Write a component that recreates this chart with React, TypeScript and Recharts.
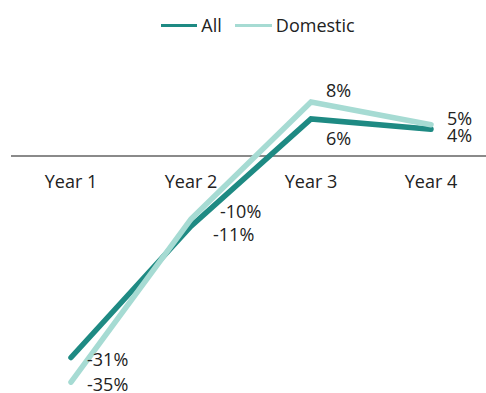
import { LineChart, Line, XAxis, YAxis, ReferenceLine, LabelList } from 'recharts';

const years = ['Year 1', 'Year 2', 'Year 3', 'Year 4'];
const allGrowth = [-31, -10.8, 5.7, 4.1];
const domesticGrowth = [-34.8, -9.7, 8.3, 4.8];

const data = years.map((year, i) => ({
    year,
    all: allGrowth[i],
    domestic: domesticGrowth[i],
}));

const FONT = '"Open Sans", sans-serif';
const DARK = '#1e8a83';
const LIGHT = '#a6dbd3';

// label nudges per point, relative to the point
const allOffsets = [[16, 8], [22, 15], [15, 26], [16, 13]];
const domesticOffsets = [[16, 9], [29, -1], [15, -5], [16, 0]];

const makeLabel = (offsets: number[][]) => (props: any) => {
    const { x, y, value, index } = props;
    const [dx, dy] = offsets[index];
    return (
        <text x={x + dx} y={y + dy} fontSize={18} fontFamily={FONT} fill="#222" textAnchor="start">
            {`${Math.round(value)}%`}
        </text>
    );
};

const YearTick = (props: any) => {
    const { x, y, payload } = props;
    return (
        <text x={x} y={y} dy={-210} textAnchor="middle" fontSize={18} fontFamily={FONT} fill="#222">
            {payload.value}
        </text>
    );
};

const LegendBox = () => (
    <div style={{ position: 'absolute', top: 12, left: 0, width: 500, display: 'flex', justifyContent: 'center', alignItems: 'center', paddingLeft: 16, boxSizing: 'border-box', fontFamily: FONT, fontSize: 18, lineHeight: '26px', color: '#222' }}>
        <span style={{ display: 'inline-block', width: 36, height: 3, background: DARK, marginRight: 4 }} />
        <span style={{ marginRight: 13 }}>All</span>
        <span style={{ display: 'inline-block', width: 37, height: 3, background: LIGHT, marginRight: 4 }} />
        <span>Domestic</span>
    </div>
);

export default function App() {
    return (
        <div style={{ position: 'absolute', left: 0, top: 0, width: 486, height: 393, overflow: 'hidden', background: '#fff' }}>
            <LegendBox />
            <LineChart width={500} height={393} data={data} margin={{ top: 91, right: 9, left: 11, bottom: 0 }}>
                <XAxis
                    dataKey="year"
                    height={3}
                    axisLine={false}
                    tickLine={false}
                    tick={<YearTick />}
                    interval={0}
                    padding={{ left: 60, right: 60 }}
                />
                <YAxis hide domain={[-36, 10]} />
                <ReferenceLine y={0} stroke="#8a8a8a" strokeWidth={2} />
                <Line
                    dataKey="all"
                    name="All"
                    stroke={DARK}
                    strokeWidth={5.5}
                    strokeLinecap="round"
                    dot={false}
                    isAnimationActive={false}
                >
                    <LabelList dataKey="all" content={makeLabel(allOffsets)} />
                </Line>
                <Line
                    dataKey="domestic"
                    name="Domestic"
                    stroke={LIGHT}
                    strokeWidth={5.5}
                    strokeLinecap="round"
                    dot={false}
                    isAnimationActive={false}
                >
                    <LabelList dataKey="domestic" content={makeLabel(domesticOffsets)} />
                </Line>
            </LineChart>
        </div>
    );
}
